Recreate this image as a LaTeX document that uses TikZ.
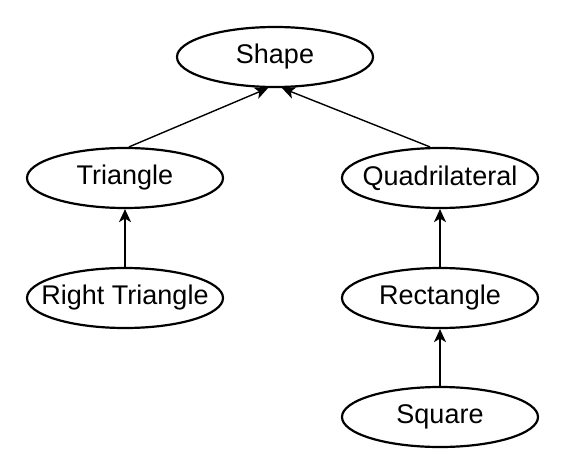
\documentclass[tikz,border=0pt]{standalone}
\usepackage{fontspec}
\setmainfont{Liberation Sans}
\usetikzlibrary{arrows.meta,shapes.geometric}
\begin{document}
\begin{tikzpicture}[x=1pt,y=-1pt,
  cls/.style={ellipse,draw,line width=2.2pt,minimum width=196pt,minimum height=60pt,inner sep=0pt,font=\fontsize{27}{32}\selectfont},
  inh/.style={line width=1.4pt,-{Stealth[length=13pt,width=12pt,inset=3.5pt]}}]
\useasboundingbox (0,0) rectangle (573,468);
\node[cls] (shape) at (275,57) {\makebox[0pt]{Shape}};
\node[cls] (tri) at (125,178) {\makebox[0pt]{Triangle}};
\node[cls] (quad) at (440,178) {\makebox[0pt]{Quadrilateral}};
\node[cls] (rtri) at (125,298) {\makebox[0pt]{Right Triangle}};
\node[cls] (rect) at (440,298) {\makebox[0pt]{Rectangle}};
\node[cls] (sq) at (440,417) {\makebox[0pt]{Square}};
\coordinate (sl) at ([xshift=-7pt]shape.south);
\coordinate (sr) at ([xshift=7pt]shape.south);
\draw[inh] ([xshift=4pt]tri.north) -- (sl);
\draw[inh] ([xshift=-10pt]quad.north) -- (sr);
\draw[inh] (rtri) -- (tri);
\draw[inh] (rect) -- (quad);
\draw[inh] (sq) -- (rect);
\end{tikzpicture}
\end{document}
